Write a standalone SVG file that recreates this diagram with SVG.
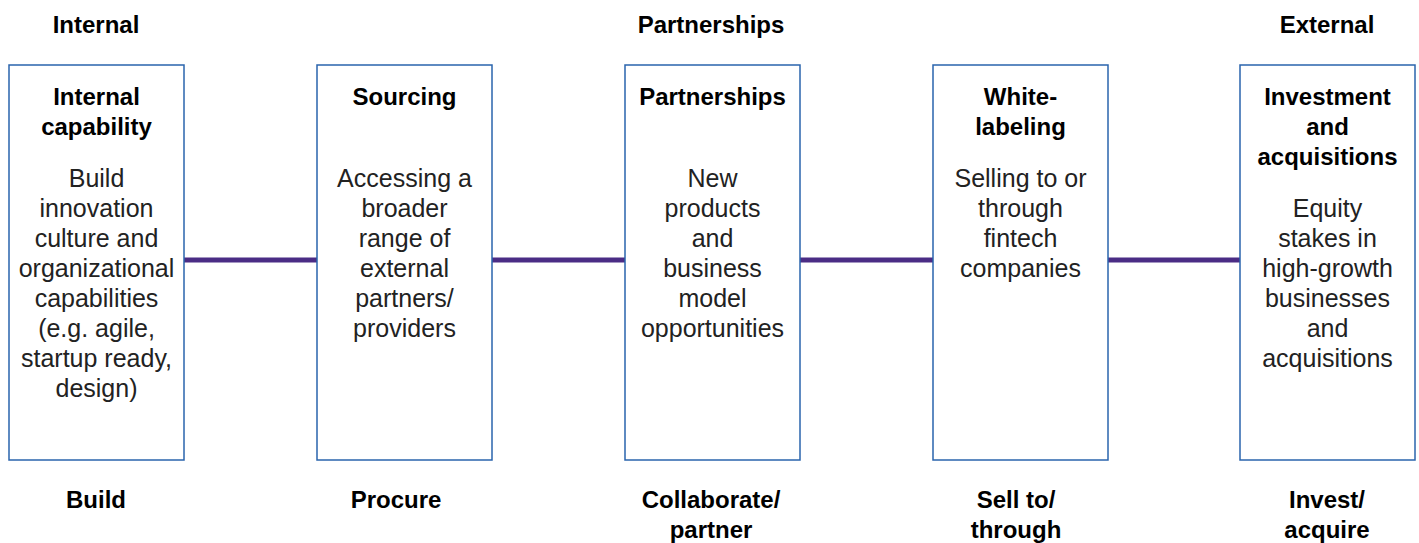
<svg xmlns="http://www.w3.org/2000/svg" width="1419" height="543" viewBox="0 0 1419 543">
<style>
.box{fill:#fff;stroke:#2a64ad;stroke-width:1.5}
.conn{stroke:#4b2c85;stroke-width:5;fill:none}
text{font-family:"Liberation Sans",Arial,sans-serif;text-anchor:middle;fill:#000}
.b{font-weight:bold;font-size:24px}
.r{font-size:25px;fill:#222}
</style>
<rect width="1419" height="543" fill="#fff"/>
<g id="connectors">
<line class="conn" x1="184" y1="260" x2="317" y2="260"/>
<line class="conn" x1="492" y1="260" x2="625" y2="260"/>
<line class="conn" x1="800" y1="260" x2="933" y2="260"/>
<line class="conn" x1="1108" y1="260" x2="1240" y2="260"/>
</g>
<g id="headers">
<text class="b" x="96" y="33">Internal</text>
<text class="b" x="711" y="33">Partnerships</text>
<text class="b" x="1327" y="33">External</text>
</g>
<g id="node-internal">
<rect class="box" x="9" y="65" width="175" height="395"/>
<text class="b" x="96.5" y="105">Internal</text>
<text class="b" x="96.5" y="135">capability</text>
<text class="r" x="96.5" y="187">Build</text>
<text class="r" x="96.5" y="217">innovation</text>
<text class="r" x="96.5" y="247">culture and</text>
<text class="r" x="96.5" y="277">organizational</text>
<text class="r" x="96.5" y="307">capabilities</text>
<text class="r" x="96.5" y="337">(e.g. agile,</text>
<text class="r" x="96.5" y="367">startup ready,</text>
<text class="r" x="96.5" y="397">design)</text>
</g>
<g id="node-sourcing">
<rect class="box" x="317" y="65" width="175" height="395"/>
<text class="b" x="404.5" y="105">Sourcing</text>
<text class="r" x="404.5" y="187">Accessing a</text>
<text class="r" x="404.5" y="217">broader</text>
<text class="r" x="404.5" y="247">range of</text>
<text class="r" x="404.5" y="277">external</text>
<text class="r" x="404.5" y="307">partners/</text>
<text class="r" x="404.5" y="337">providers</text>
</g>
<g id="node-partnerships">
<rect class="box" x="625" y="65" width="175" height="395"/>
<text class="b" x="712.5" y="105">Partnerships</text>
<text class="r" x="712.5" y="187">New</text>
<text class="r" x="712.5" y="217">products</text>
<text class="r" x="712.5" y="247">and</text>
<text class="r" x="712.5" y="277">business</text>
<text class="r" x="712.5" y="307">model</text>
<text class="r" x="712.5" y="337">opportunities</text>
</g>
<g id="node-whitelabeling">
<rect class="box" x="933" y="65" width="175" height="395"/>
<text class="b" x="1020.5" y="105">White-</text>
<text class="b" x="1020.5" y="135">labeling</text>
<text class="r" x="1020.5" y="187">Selling to or</text>
<text class="r" x="1020.5" y="217">through</text>
<text class="r" x="1020.5" y="247">fintech</text>
<text class="r" x="1020.5" y="277">companies</text>
</g>
<g id="node-investment">
<rect class="box" x="1240" y="65" width="175" height="395"/>
<text class="b" x="1327.5" y="105">Investment</text>
<text class="b" x="1327.5" y="135">and</text>
<text class="b" x="1327.5" y="165">acquisitions</text>
<text class="r" x="1327.5" y="217">Equity</text>
<text class="r" x="1327.5" y="247">stakes in</text>
<text class="r" x="1327.5" y="277">high-growth</text>
<text class="r" x="1327.5" y="307">businesses</text>
<text class="r" x="1327.5" y="337">and</text>
<text class="r" x="1327.5" y="367">acquisitions</text>
</g>
<g id="footers">
<text class="b" x="96" y="508">Build</text>
<text class="b" x="396" y="508">Procure</text>
<text class="b" x="711" y="508">Collaborate/</text>
<text class="b" x="711" y="538">partner</text>
<text class="b" x="1016" y="508">Sell to/</text>
<text class="b" x="1016" y="538">through</text>
<text class="b" x="1327" y="508">Invest/</text>
<text class="b" x="1327" y="538">acquire</text>
</g>
</svg>
